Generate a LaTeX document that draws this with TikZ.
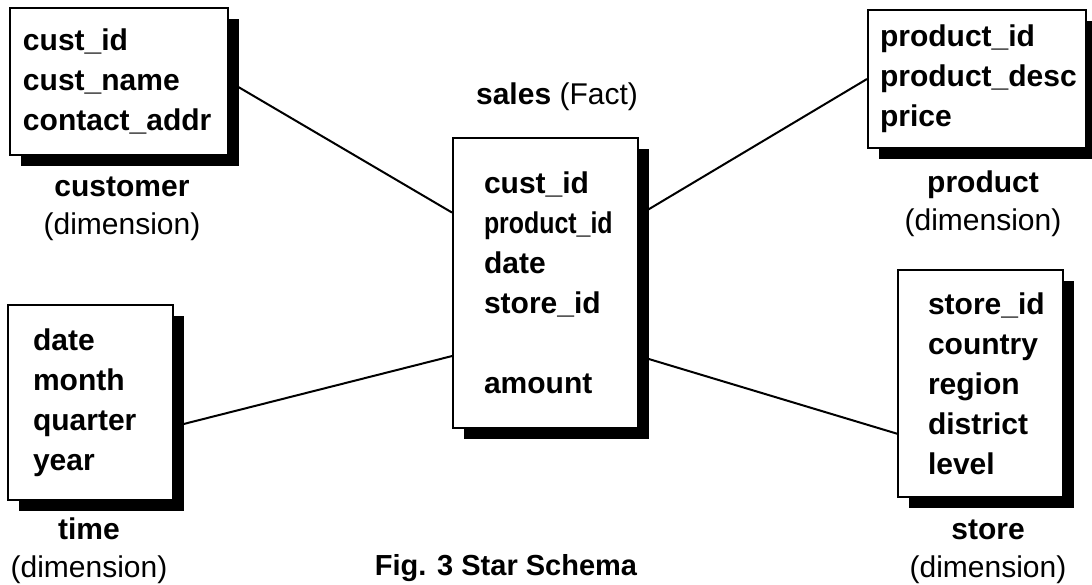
\documentclass[tikz,border=0pt]{standalone}
\usepackage{fontspec}
\setmainfont{Liberation Sans}
\usetikzlibrary{shadows}

\tikzset{
  dimtable/.style={rectangle, draw, line width=1pt, fill=white, align=left,
    inner ysep=0pt, font=\fontsize{15pt}{20pt}\selectfont\bfseries,
    drop shadow={fill=black, opacity=1, shadow xshift=5.5pt, shadow yshift=-5.5pt}},
  tablabel/.style={align=center, font=\fontsize{15pt}{19pt}\selectfont},
  link/.style={line width=1pt}
}

\begin{document}
\begin{tikzpicture}[x=0.5pt,y=-0.5pt]
  \useasboundingbox (0,0) rectangle (1092,584);

  % the fact table
  \node[dimtable, inner xsep=15.5pt, text width=61.5pt, minimum height=145pt] (sales) at (545.5,283)
    {cust\_id\\\scalebox{.83}[1]{product\_id}\\date\\store\_id\\[20pt]amount};
  \node[tablabel] (sales-lbl) at (557,97) {\textbf{sales} (Fact)};

  % dimension tables
  \node[dimtable, inner xsep=6.5pt, text width=96pt, minimum height=73.5pt] (customer) at (119,81.5)
    {cust\_id\\cust\_name\\contact\_addr};
  \node[dimtable, inner xsep=6pt, text width=97pt, minimum height=69pt] (product) at (977,79)
    {product\_id\\product\_desc\\price};
  \node[dimtable, inner xsep=12.5pt, text width=57.5pt, minimum height=97.5pt] (time) at (90.5,402.5)
    {date\\month\\quarter\\year};
  \node[dimtable, inner xsep=15pt, text width=52.5pt, minimum height=113.5pt] (store) at (980.5,383.5)
    {store\_id\\country\\region\\district\\level};

  \node[tablabel] (customer-lbl) at (122,209) {\textbf{customer}\\(dimension)};
  \node[tablabel] (product-lbl) at (983,204) {\textbf{product}\\(dimension)};
  \node[tablabel] (time-lbl) at (89,551) {\textbf{time}\\(dimension)};
  \node[tablabel] (store-lbl) at (988,552) {\textbf{store}\\(dimension)};

  \node[tablabel, font=\fontsize{14.5pt}{19pt}\selectfont\bfseries] (caption) at (506,568) {Fig. 3 Star Schema};

  % links to the fact table
  \draw[link] (customer.east) -- (sales.143);
  \draw[link] (product.west) -- (sales.36);
  \draw[link] (time.344) -- (sales.218);
  \draw[link] (store.211) -- (sales.322);
\end{tikzpicture}
\end{document}
